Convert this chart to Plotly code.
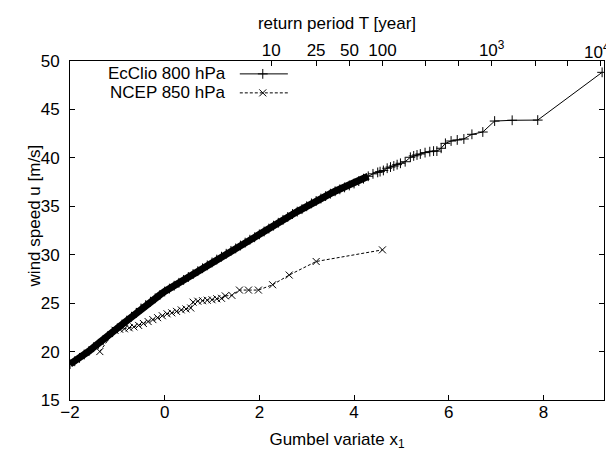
import numpy as np
import plotly.graph_objects as go

# ---- data ----
ec_x = [-2.0, -1.9, -1.8, -1.7, -1.6, -1.5, -1.4, -1.3, -1.2, -1.1, -1.0, -0.9, -0.8, -0.7,
        -0.6, -0.5, -0.4, -0.3, -0.2, -0.1, 0.0, 0.1, 0.2, 0.3, 0.4, 0.5, 0.6, 0.7, 0.8, 0.9,
        1.0, 1.1, 1.2, 1.3, 1.4, 1.5, 1.6, 1.7, 1.8, 1.9, 2.0, 2.1, 2.2, 2.3, 2.4, 2.5, 2.6,
        2.7, 2.8, 2.9, 3.0, 3.1, 3.2, 3.3, 3.4, 3.5, 3.6, 3.7, 3.8, 3.9, 4.0, 4.1, 4.2, 4.3,
        4.4, 4.5,
        4.55, 4.62, 4.7, 4.77, 4.84, 4.91, 4.98, 5.08, 5.19, 5.26, 5.33, 5.4, 5.5, 5.6, 5.68,
        5.75, 5.84, 5.93, 6.05, 6.18, 6.32, 6.49, 6.72, 6.97, 7.34, 7.88, 9.24]
ec_y = [18.7, 19.0, 19.35, 19.7, 20.05, 20.45, 20.8, 21.2, 21.6, 22.0, 22.4, 22.8, 23.2, 23.6,
        24.0, 24.45, 24.8, 25.15, 25.5, 25.85, 26.2, 26.5, 26.8, 27.1, 27.4, 27.7, 28.0, 28.3,
        28.6, 28.9, 29.2, 29.5, 29.8, 30.1, 30.4, 30.65, 30.95, 31.25, 31.55, 31.8, 32.1, 32.4,
        32.7, 33.0, 33.3, 33.6, 33.9, 34.2, 34.45, 34.7, 35.0, 35.3, 35.55, 35.8, 36.05, 36.3,
        36.55, 36.75, 36.95, 37.15, 37.35, 37.6, 37.85, 38.1, 38.35, 38.5,
        38.58, 38.7, 38.93, 39.05, 39.16, 39.3, 39.44, 39.6, 40.06, 40.2, 40.3, 40.4, 40.54,
        40.64, 40.7, 40.7, 40.99, 41.5, 41.74, 41.85, 41.95, 42.43, 42.67, 43.8, 43.88, 43.9,
        48.83]
ec_dense_n = 64  # points forming the thick, densely-sampled band

nc_x = [-1.37, -1.05, -0.95, -0.85, -0.75, -0.65, -0.55, -0.45, -0.35, -0.25, -0.15, -0.05,
        0.05, 0.15, 0.25, 0.35, 0.45, 0.55, 0.6, 0.7, 0.8, 0.9, 1.0, 1.1, 1.2, 1.28, 1.42,
        1.58, 1.77, 1.98, 2.28, 2.63, 3.2, 4.6]
nc_y = [20.0, 22.2, 22.3, 22.35, 22.45, 22.55, 22.7, 22.9, 23.1, 23.3, 23.5, 23.7, 23.9, 24.0,
        24.15, 24.3, 24.4, 24.5, 25.1, 25.2, 25.25, 25.3, 25.35, 25.45, 25.5, 25.75, 25.8,
        26.35, 26.35, 26.35, 26.9, 27.9, 29.3, 30.5]

x_ticks = [-2, 0, 2, 4, 6, 8]
y_ticks = [15, 20, 25, 30, 35, 40, 45, 50]
T_major = [10, 25, 50, 100, 1000]
T_major_text = ["10", "25", "50", "100", "10<sup>3</sup>"]
T_last = 10000
T_last_text = "10<sup>4</sup>"
T_minor = [250, 500, 2500, 5000]


def gumbel(T):
    return float(-np.log(-np.log(1.0 - 1.0 / T)))


XR = [-2, 9.28]
YR = [15, 50]
FONT = "Liberation Sans, Arial, Helvetica, sans-serif"

fig = go.Figure()

# thick band for the densely sampled part of EcClio
fig.add_trace(go.Scatter(x=ec_x[:ec_dense_n], y=ec_y[:ec_dense_n], mode="lines",
                         line=dict(color="black", width=7), showlegend=False,
                         hoverinfo="skip"))
fig.add_trace(go.Scatter(x=ec_x, y=ec_y, mode="lines+markers", name="EcClio 800 hPa",
                         line=dict(color="black", width=1),
                         marker=dict(symbol="cross-thin", size=7,
                                     line=dict(color="black", width=1)),
                         showlegend=False))
fig.add_trace(go.Scatter(x=nc_x, y=nc_y, mode="lines+markers", name="NCEP 850 hPa",
                         line=dict(color="black", width=1, dash="3px,2px"),
                         marker=dict(symbol="x-thin", size=7,
                                     line=dict(color="black", width=1)),
                         showlegend=False))

# legend samples (gnuplot style: text, then sample) on a hidden 0..1 overlay axis
leg_x0, leg_x1, leg_xm = 0.318, 0.408, 0.361
leg_y = [0.962, 0.906]
fig.add_trace(go.Scatter(x=[leg_x0, leg_x1], y=[leg_y[0]] * 2, mode="lines",
                         xaxis="x3", yaxis="y3", line=dict(color="black", width=1),
                         showlegend=False, hoverinfo="skip"))
fig.add_trace(go.Scatter(x=[leg_xm], y=[leg_y[0]], mode="markers", xaxis="x3", yaxis="y3",
                         marker=dict(symbol="cross-thin", size=7,
                                     line=dict(color="black", width=1)),
                         showlegend=False, hoverinfo="skip"))
fig.add_trace(go.Scatter(x=[leg_x0, leg_x1], y=[leg_y[1]] * 2, mode="lines",
                         xaxis="x3", yaxis="y3",
                         line=dict(color="black", width=1, dash="3px,2px"),
                         showlegend=False, hoverinfo="skip"))
fig.add_trace(go.Scatter(x=[leg_xm], y=[leg_y[1]], mode="markers", xaxis="x3", yaxis="y3",
                         marker=dict(symbol="x-thin", size=7,
                                     line=dict(color="black", width=1)),
                         showlegend=False, hoverinfo="skip"))
# invisible trace on top axis so it is drawn
fig.add_trace(go.Scatter(x=XR, y=YR, mode="none", xaxis="x2", showlegend=False,
                         hoverinfo="skip"))

axis_common = dict(showgrid=False, zeroline=False, showline=True, linecolor="black",
                   linewidth=1, ticks="inside", ticklen=5, tickcolor="black",
                   automargin=False,
                   tickfont=dict(size=17, color="black", family=FONT))

# the page body adds an 8px offset, so the figure is 8px smaller than the window
fig.update_layout(
    width=606, height=445,
    margin=dict(l=62, r=10, t=53, b=53),
    paper_bgcolor="white", plot_bgcolor="white",
    font=dict(family=FONT, size=17, color="black"),
    showlegend=False,
    xaxis=dict(range=XR, tickvals=x_ticks, mirror=True, ticklabelstandoff=-3,
               title=dict(text="Gumbel variate x<sub>1</sub>", standoff=11,
                          font=dict(size=17)), **axis_common),
    yaxis=dict(range=YR, tickvals=y_ticks, mirror="ticks", ticklabelstandoff=6,
               **axis_common),
    xaxis2=dict(range=XR, overlaying="x", side="top", anchor="y", ticklabelstandoff=-3,
                tickvals=[gumbel(t) for t in T_major], ticktext=T_major_text,
                minor=dict(tickvals=[gumbel(T_last)] + [gumbel(t) for t in T_minor],
                           ticks="inside", ticklen=5, tickcolor="black", showgrid=False),
                title=dict(text="return period T [year]", standoff=4, font=dict(size=17)),
                **axis_common),
    xaxis3=dict(range=[0, 1], overlaying="x", visible=False),
    yaxis3=dict(range=[0, 1], overlaying="y", visible=False, anchor="x3"),
    annotations=[
        dict(text="wind speed u [m/s]", x=-0.0665, y=0.543, xref="paper", yref="paper",
             xanchor="center", yanchor="middle", textangle=-90, showarrow=False,
             font=dict(size=17)),
        dict(text="EcClio 800 hPa", x=0.296, y=leg_y[0], xref="paper", yref="paper",
             xanchor="right", yanchor="middle", showarrow=False, font=dict(size=17)),
        dict(text="NCEP 850 hPa", x=0.296, y=leg_y[1], xref="paper", yref="paper",
             xanchor="right", yanchor="middle", showarrow=False, font=dict(size=17)),
        dict(text=T_last_text, x=1.015, y=1.0295, xref="paper", yref="paper",
             xanchor="right", yanchor="middle", showarrow=False, font=dict(size=17)),
    ],
)

fig.write_html("out.html")
